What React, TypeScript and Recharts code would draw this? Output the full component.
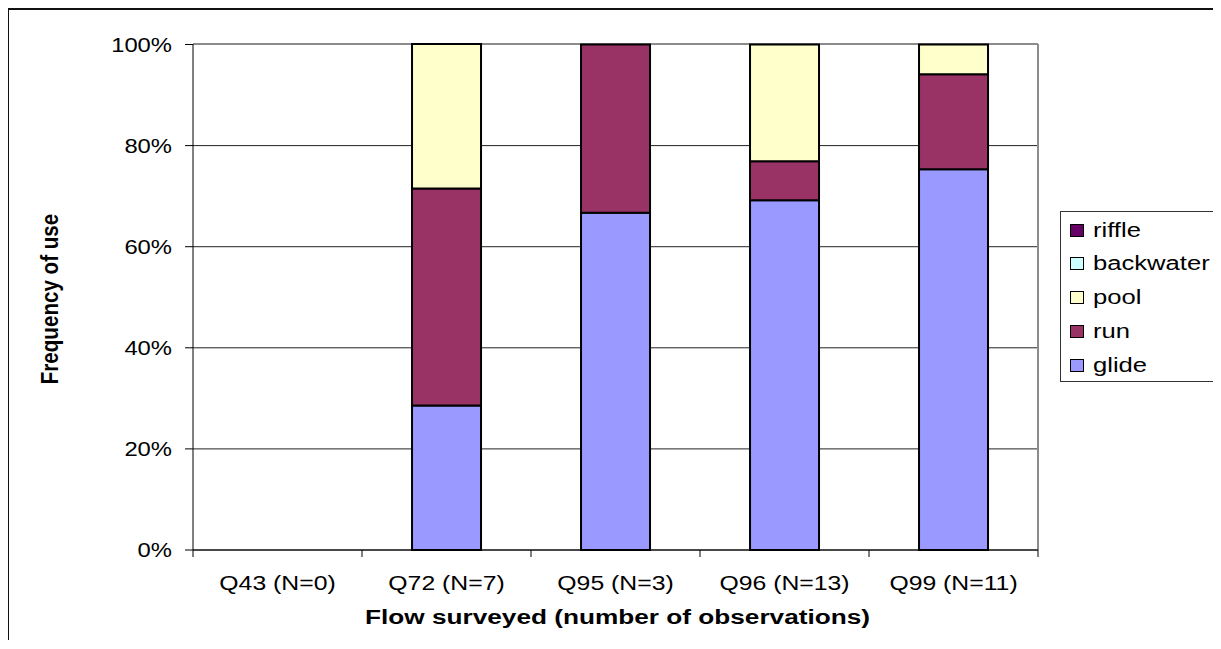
import React from "react";
import {
  BarChart,
  Bar,
  XAxis,
  YAxis,
  CartesianGrid,
  Legend,
} from "recharts";

// flows surveyed and share of observations per habitat type (%)
const categories = ["Q43 (N=0)", "Q72 (N=7)", "Q95 (N=3)", "Q96 (N=13)", "Q99 (N=11)"];
const glide = [0, 28.6, 66.7, 69.2, 75.3];
const run = [0, 42.9, 33.3, 7.7, 18.8];
const pool = [0, 28.6, 0, 23.1, 5.9];
const backwater = [0, 0, 0, 0, 0];
const riffle = [0, 0, 0, 0, 0];
const yTicks = [0, 20, 40, 60, 80, 100];

const series = [
  { key: "glide", name: "glide", color: "#9999FF", values: glide },
  { key: "run", name: "run", color: "#993366", values: run },
  { key: "pool", name: "pool", color: "#FFFFCC", values: pool },
  { key: "backwater", name: "backwater", color: "#CCFFFF", values: backwater },
  { key: "riffle", name: "riffle", color: "#660066", values: riffle },
];

const data = categories.map((name, i) => {
  const row: Record<string, string | number> = { name };
  series.forEach((s) => {
    row[s.key] = s.values[i];
  });
  return row;
});

const FONT = "'Liberation Sans', Arial, Helvetica, sans-serif";
const CHART_W = 1204;
const CHART_H = 630;
const Y_W = 184;
const MARGIN = { top: 34, right: 175, left: 0, bottom: 0 };
const X_H = CHART_H - MARGIN.top - 506;
const BAND = (CHART_W - Y_W - MARGIN.right) / categories.length;

const YTick = ({ x, y, payload }: any) => (
  <text
    transform={`translate(${x},${y}) scale(1.19,1)`}
    textAnchor="end"
    dy={7}
    fontSize={20}
    fontFamily={FONT}
    fill="#000"
  >
    {payload.value}%
  </text>
);

const XTick = ({ x, y, payload, index }: any) => (
  <g>
    <line x1={x - BAND / 2} x2={x - BAND / 2} y1={y} y2={y + 7} stroke="#000" />
    {index === categories.length - 1 && (
      <line x1={x + BAND / 2} x2={x + BAND / 2} y1={y} y2={y + 7} stroke="#000" />
    )}
    <text
      transform={`translate(${x},${y + 40}) scale(1.18,1)`}
      textAnchor="middle"
      fontSize={21}
      fontFamily={FONT}
      fill="#000"
    >
      {payload.value}
    </text>
  </g>
);

const XTitle = ({ viewBox }: any) => (
  <text
    transform={`translate(${viewBox.x + viewBox.width / 2 + 2},${viewBox.y + 74}) scale(1.31,1)`}
    textAnchor="middle"
    fontSize={20}
    fontWeight="bold"
    fontFamily={FONT}
    fill="#000"
  >
    Flow surveyed (number of observations)
  </text>
);

const YTitle = ({ viewBox }: any) => (
  <text
    transform={`translate(${viewBox.x + 41},${viewBox.y + viewBox.height / 2 + 2}) rotate(-90) scale(1.03,1.15)`}
    textAnchor="middle"
    dominantBaseline="central"
    fontSize={20}
    fontWeight="bold"
    fontFamily={FONT}
    fill="#000"
  >
    Frequency of use
  </text>
);

const LegendBox = () => (
  <div
    style={{
      width: 154,
      height: 169,
      border: "1px solid #333",
      background: "#fff",
      fontFamily: FONT,
      fontSize: 20,
      position: "relative",
    }}
  >
    {[...series].reverse().map((s, i) => (
      <div
        key={s.key}
        style={{
          position: "absolute",
          left: 0,
          top: 5 + i * 33.75,
          height: 26,
          display: "flex",
          alignItems: "center",
        }}
      >
        <span
          style={{
            display: "inline-block",
            width: 12,
            height: 11,
            marginLeft: 9,
            background: s.color,
            border: "1px solid #000",
          }}
        />
        <span
          style={{
            display: "inline-block",
            marginLeft: 9,
            transform: "scaleX(1.28)",
            transformOrigin: "left center",
            color: "#000",
            whiteSpace: "nowrap",
          }}
        >
          {s.name}
        </span>
      </div>
    ))}
  </div>
);

export default function App() {
  return (
    <div
      style={{
        width: CHART_W,
        height: CHART_H,
        borderTop: "2px solid #111",
        borderLeft: "1px solid #111",
        background: "#fff",
      }}
    >
      <BarChart
        width={CHART_W}
        height={CHART_H}
        data={data}
        margin={MARGIN}
        barCategoryGap="29.6%"
      >
        <CartesianGrid vertical={false} stroke="#222" />
        <CartesianGrid
          horizontalCoordinatesGenerator={({ offset }: any) => [offset.top]}
          verticalCoordinatesGenerator={({ offset }: any) => [offset.left + offset.width]}
          stroke="#8c8c8c"
          strokeWidth={2}
        />
        <XAxis
          dataKey="name"
          height={X_H}
          stroke="#000"
          tickLine={false}
          tickSize={0}
          tickMargin={0}
          interval={0}
          tick={<XTick />}
          label={<XTitle />}
        />
        <YAxis
          width={Y_W}
          domain={[0, 100]}
          ticks={yTicks}
          stroke="#000"
          tickSize={8}
          tickMargin={13}
          tick={<YTick />}
          label={<YTitle />}
        />
        <Legend
          layout="horizontal"
          verticalAlign="middle"
          align="center"
          content={() => <LegendBox />}
          wrapperStyle={{ left: 1051, top: 201, width: 156, height: 171 }}
        />
        {series.map((s) => (
          <Bar
            key={s.key}
            dataKey={s.key}
            name={s.name}
            stackId="habitat"
            fill={s.color}
            stroke="#000"
            strokeWidth={2}
            isAnimationActive={false}
          />
        ))}
      </BarChart>
    </div>
  );
}
